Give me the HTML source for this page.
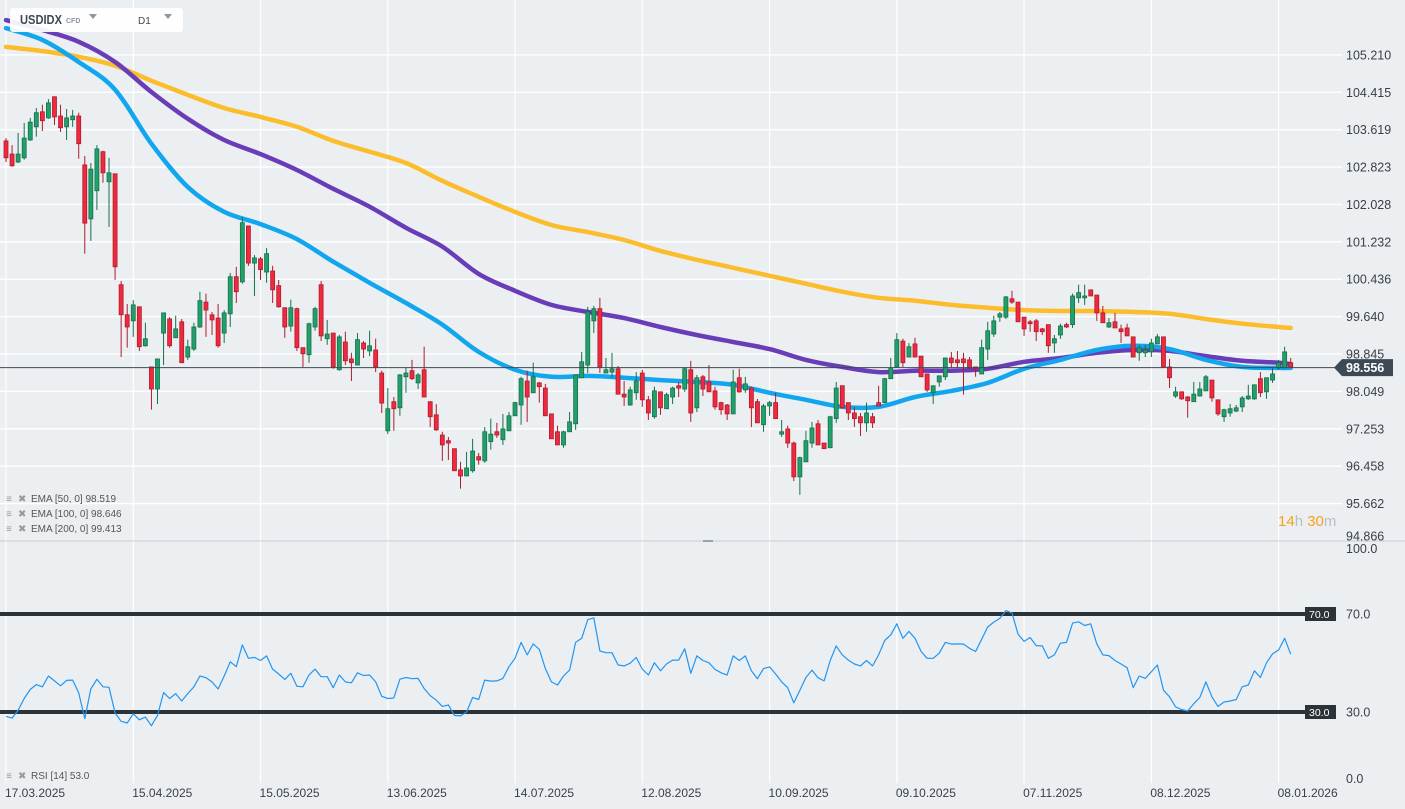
<!DOCTYPE html>
<html><head><meta charset="utf-8"><title>USDIDX D1</title>
<style>
html,body{margin:0;padding:0;background:#eceff2;}
body{width:1405px;height:809px;overflow:hidden;font-family:"Liberation Sans",sans-serif;}
svg{display:block}
</style></head>
<body>
<svg id="chart" width="1405" height="809" xmlns="http://www.w3.org/2000/svg" style="font-family:'Liberation Sans',sans-serif">
  <rect x="0" y="0" width="1405" height="809" fill="#eceff2"/>
  <g id="grid"></g>
  <g id="ema"></g>
  <g id="candles"></g>
  <g id="rsi"></g>
  <g id="axes"></g>

  <g>
    <rect x="10" y="8" width="173" height="24" rx="3" fill="#ffffff" fill-opacity="0.92"/>
    <text x="20" y="24" font-size="12.5" font-weight="bold" fill="#3d4a55" textLength="42" lengthAdjust="spacingAndGlyphs">USDIDX</text>
    <text x="66" y="23" font-size="7" font-weight="bold" fill="#8a96a0">CFD</text>
    <path d="M89 14 L97 14 L93 19 Z" fill="#8a96a0"/>
    <text x="138" y="24" font-size="10" fill="#3d4a55">D1</text>
    <path d="M164 14 L172 14 L168 19 Z" fill="#8a96a0"/>
  </g>

  <g font-size="10" fill="#555">
    <g><text x="6" y="502" fill="#999">≡</text><text x="18" y="502" fill="#999">✖</text><text x="31" y="502">EMA [50,  0] 98.519</text></g>
    <g><text x="6" y="517" fill="#999">≡</text><text x="18" y="517" fill="#999">✖</text><text x="31" y="517">EMA [100,  0] 98.646</text></g>
    <g><text x="6" y="532" fill="#999">≡</text><text x="18" y="532" fill="#999">✖</text><text x="31" y="532">EMA [200,  0] 99.413</text></g>
  </g>
  <g font-size="10" fill="#555"><text x="6" y="779" fill="#999">≡</text><text x="18" y="779" fill="#999">✖</text><text x="31" y="779">RSI [14] 53.0</text></g>

  <text x="1278" y="526" font-size="15"><tspan fill="#f7a21b">14</tspan><tspan fill="#b9bec4">h </tspan><tspan fill="#f7a21b">30</tspan><tspan fill="#b9bec4">m</tspan></text>
  <line x1="0" y1="541" x2="1405" y2="541" stroke="#c9ced4" stroke-width="1"/>
  <rect x="703" y="540" width="10" height="2" fill="#9aa3ab"/>
</svg>
<script>
const opens=[103.38,103.10,102.93,103.02,103.40,103.68,104.00,103.87,104.32,103.91,103.68,103.83,103.91,102.87,101.72,102.32,103.15,102.51,102.68,100.32,99.68,99.55,99.85,99.02,98.57,98.10,99.29,99.59,99.19,99.53,98.78,98.95,99.42,99.95,99.68,99.61,99.29,99.70,100.49,100.38,101.57,100.78,100.87,100.59,100.61,100.30,99.83,99.44,99.81,98.98,98.83,99.42,100.32,99.17,99.29,98.51,99.10,98.74,98.61,99.08,98.91,98.93,98.44,97.21,97.83,97.70,98.36,98.49,98.23,98.51,97.83,97.55,97.12,97.00,96.83,96.38,96.25,96.36,96.66,96.57,96.98,97.19,97.02,97.21,97.53,97.76,98.27,98.02,98.23,98.12,97.57,97.19,96.91,97.19,97.36,98.34,98.61,99.55,99.81,98.44,98.46,98.53,97.99,97.76,98.02,98.44,97.87,97.51,98.04,97.68,97.93,98.17,98.10,98.51,97.70,98.36,98.25,98.06,97.81,97.76,97.57,98.34,98.08,98.12,97.83,97.34,97.74,97.81,97.14,97.25,96.95,96.23,96.55,96.95,97.36,96.95,96.85,97.47,98.17,97.81,97.59,97.51,97.38,97.51,97.81,97.81,98.32,98.57,99.12,98.78,99.06,98.80,98.42,98.02,98.25,98.36,98.76,98.72,98.74,98.72,98.57,98.42,98.95,99.27,99.63,99.63,100.02,99.95,99.63,99.53,99.55,99.38,99.47,99.08,99.25,99.47,99.47,100.04,100.04,100.21,100.10,99.72,99.42,99.53,99.38,99.40,99.21,98.87,98.87,98.89,99.06,99.21,98.57,97.95,98.04,97.93,97.83,97.95,98.06,98.29,97.87,97.51,97.59,97.63,97.72,97.89,97.89,98.32,98.04,98.29,98.55,98.55,98.66];
const closes=[103.02,102.85,103.10,103.44,103.78,103.98,103.81,104.19,103.89,103.66,103.87,103.91,103.32,101.63,102.78,103.21,102.70,102.70,100.70,99.68,99.42,99.89,99.00,99.17,98.10,98.74,99.72,99.02,99.38,98.66,99.00,99.42,99.98,99.78,99.57,99.02,99.72,100.49,100.17,101.64,100.78,100.89,100.64,100.98,100.21,99.85,99.42,99.83,98.98,98.85,99.49,99.81,99.23,99.27,98.57,99.21,98.70,98.66,99.15,98.95,99.02,98.57,97.80,97.68,97.68,98.40,98.44,98.32,98.40,97.93,97.51,97.23,96.91,96.95,96.36,96.25,96.42,96.78,96.59,97.19,97.14,97.12,97.25,97.53,97.81,98.32,97.93,98.36,98.15,97.53,97.04,96.91,97.19,97.40,98.40,98.68,99.74,99.81,98.57,98.51,98.53,97.99,97.93,98.08,98.27,97.87,97.59,98.06,97.70,97.98,98.12,98.12,98.53,97.59,98.34,98.10,98.04,97.72,97.66,97.57,98.25,98.04,98.21,97.70,97.38,97.74,97.81,97.47,97.19,96.95,96.23,96.64,97.00,97.27,96.91,96.83,97.51,98.12,97.70,97.59,97.47,97.38,97.59,97.38,97.74,98.32,98.55,99.15,98.66,99.00,98.78,98.36,98.08,98.17,98.38,98.76,98.66,98.66,98.66,98.55,98.53,98.98,99.34,99.55,99.70,100.06,99.95,99.53,99.38,99.49,99.32,99.32,99.02,99.17,99.44,99.42,100.08,100.15,100.08,100.08,99.72,99.51,99.51,99.40,99.32,99.23,98.78,98.98,98.93,99.08,99.21,98.57,98.34,98.04,97.89,97.85,97.99,98.10,98.36,97.91,97.57,97.66,97.68,97.70,97.91,97.95,98.19,98.02,98.34,98.42,98.66,98.89,98.57];
const highs=[103.44,103.29,103.55,103.76,103.87,104.08,104.15,104.27,104.32,104.15,104.06,104.04,103.98,103.06,102.91,103.29,103.17,103.02,102.68,100.40,99.91,99.99,99.85,99.51,98.57,98.74,99.72,99.63,99.66,99.59,99.15,99.51,100.17,100.13,99.74,99.91,99.78,100.57,100.70,101.76,101.57,100.95,100.91,101.10,100.72,100.42,99.83,100.00,99.83,98.98,99.51,99.85,100.40,99.57,99.29,99.25,99.32,98.87,99.29,99.12,99.34,99.17,98.49,98.12,97.93,98.42,98.55,98.72,98.44,99.00,97.83,97.78,97.19,97.08,96.83,96.55,96.76,97.04,96.74,97.29,97.47,97.38,97.57,97.61,97.83,98.36,98.49,98.66,98.25,98.21,97.57,97.32,97.21,97.61,98.40,98.89,99.85,99.87,100.04,98.76,98.87,98.59,98.27,98.15,98.46,98.51,97.95,98.15,98.04,98.02,98.15,98.25,98.55,98.70,98.40,98.40,98.61,98.15,97.83,97.78,98.51,98.53,98.36,98.15,97.89,97.78,97.85,98.02,97.44,97.32,96.98,96.66,97.21,97.40,97.44,96.95,97.53,98.25,98.17,97.81,97.72,97.59,97.81,97.59,98.17,98.34,98.76,99.29,99.17,99.08,99.19,98.80,98.42,98.17,98.38,98.76,98.89,98.91,98.87,98.78,98.57,99.15,99.53,99.66,99.74,100.08,100.19,99.95,99.63,99.57,99.59,99.40,99.47,99.25,99.49,99.51,100.13,100.32,100.32,100.21,100.10,99.87,99.61,99.72,99.47,99.49,99.21,99.04,99.04,99.17,99.27,99.21,98.74,98.15,98.04,97.95,98.25,98.25,98.40,98.29,97.87,97.68,97.78,97.76,97.95,98.19,98.19,98.46,98.34,98.57,98.72,99.00,98.76];
const lows=[102.93,102.83,102.91,102.98,103.38,103.47,103.59,103.85,103.72,103.57,103.40,103.68,103.00,100.98,101.25,101.91,102.49,101.55,100.42,98.78,98.98,99.21,98.91,99.00,97.66,97.78,98.61,98.98,99.19,98.66,98.72,98.91,99.40,99.21,99.25,98.98,99.08,99.42,99.93,100.34,100.72,100.08,100.42,100.36,99.93,99.83,99.19,99.32,98.91,98.57,98.66,99.34,99.12,99.04,98.53,98.49,98.61,98.27,98.61,98.76,98.80,98.46,97.59,97.14,97.21,97.53,98.02,98.29,98.10,97.93,97.29,97.21,96.57,96.59,96.36,95.98,96.25,96.32,96.49,96.53,96.81,97.06,96.91,97.21,97.53,97.34,97.40,98.02,97.81,97.53,97.04,96.91,96.85,97.19,97.23,98.34,98.44,99.29,98.44,98.44,98.34,97.99,97.74,97.74,97.87,97.72,97.44,97.47,97.55,97.68,97.78,97.93,98.04,97.40,97.61,97.95,98.04,97.66,97.55,97.44,97.57,98.02,98.02,97.29,97.38,97.19,97.53,97.47,97.08,96.85,96.14,95.85,96.55,96.85,96.91,96.83,96.85,97.38,97.70,97.44,97.29,97.10,97.19,97.27,97.74,97.81,98.32,98.57,98.57,98.78,98.78,98.36,98.04,97.78,98.15,98.29,98.55,98.55,97.98,98.53,98.36,98.42,98.72,99.21,99.53,99.59,99.91,99.53,99.23,99.32,99.12,99.25,98.87,98.87,99.17,99.40,99.40,99.93,99.89,100.08,99.55,99.51,99.40,99.40,99.08,99.23,98.78,98.70,98.78,98.78,99.06,98.57,98.12,97.91,97.87,97.49,97.83,97.95,98.06,97.83,97.53,97.40,97.51,97.61,97.61,97.87,97.87,97.93,97.89,98.23,98.51,98.55,98.55];
const emaIdx=[0,6,12,18,24,30,36,42,48,54,60,66,72,78,84,90,96,102,108,114,120,126,132,138,144,150,156,162,168,174,180,186,192,198,204,210,212];
const ema50=[105.78,105.53,105.06,104.47,103.32,102.40,101.87,101.61,101.29,100.81,100.36,99.93,99.47,98.89,98.51,98.36,98.38,98.34,98.29,98.25,98.19,98.02,97.87,97.72,97.72,97.93,98.06,98.23,98.53,98.72,98.93,99.02,98.95,98.72,98.57,98.55,98.55];
const ema100=[105.95,105.74,105.49,105.06,104.42,103.85,103.40,103.10,102.76,102.36,101.98,101.53,101.13,100.55,100.19,99.89,99.74,99.61,99.42,99.25,99.10,98.95,98.72,98.57,98.46,98.49,98.49,98.53,98.68,98.76,98.87,98.93,98.91,98.80,98.70,98.66,98.63];
const ema200=[105.38,105.29,105.17,104.98,104.66,104.36,104.08,103.89,103.68,103.38,103.15,102.91,102.53,102.19,101.87,101.59,101.44,101.27,101.04,100.85,100.68,100.51,100.34,100.17,100.04,99.98,99.89,99.83,99.78,99.76,99.76,99.74,99.70,99.59,99.49,99.42,99.40];
const rsiVals=[28.2,27.5,30.7,35.5,39.2,41.2,40.3,44.7,42.7,40.7,42.9,43.0,37.8,27.3,39.4,43.4,40.3,40.1,29.6,26.2,25.5,29.3,26.8,27.9,24.4,28.6,37.9,35.5,37.5,34.5,37.5,40.3,44.7,44.0,42.3,39.4,44.7,50.5,48.5,57.4,51.9,52.3,51.0,52.9,47.5,45.5,43.3,45.8,40.5,40.3,45.1,47.5,44.4,44.4,39.9,45.1,42.3,41.9,46.0,44.9,45.1,42.3,36.4,35.5,35.7,43.4,44.1,43.6,43.7,39.6,36.7,34.8,32.3,32.9,28.6,28.4,30.0,35.9,35.1,43.0,42.6,42.7,43.7,48.5,51.9,58.4,53.3,57.8,55.6,47.8,42.3,41.0,44.7,47.1,58.4,60.1,67.7,68.4,54.9,54.2,54.2,49.2,48.8,49.9,52.3,47.5,45.1,50.1,46.8,49.6,51.2,51.2,55.8,45.8,52.9,51.0,50.1,47.4,46.0,45.1,52.9,51.0,52.9,46.8,43.6,47.7,48.4,45.5,42.3,39.9,33.7,38.9,44.1,47.1,44.0,42.7,51.0,57.0,53.3,51.2,49.6,48.8,51.0,48.8,53.3,59.2,61.5,66.0,60.1,62.9,60.1,54.7,51.9,51.9,54.0,58.4,57.7,57.8,57.7,56.0,54.7,59.7,64.7,66.7,68.2,71.4,70.4,61.8,58.8,60.4,57.1,57.0,51.9,53.3,58.1,58.4,66.3,66.8,65.3,66.0,57.8,53.3,53.0,51.0,49.6,48.1,39.9,44.7,43.7,46.4,49.2,38.9,36.2,32.1,31.0,30.4,33.4,35.9,42.3,36.2,32.3,34.1,34.5,35.1,40.3,41.0,46.8,44.1,50.1,53.7,55.3,60.1,53.6];
const priceTicks=["105.210","104.415","103.619","102.823","102.028","101.232","100.436","99.640","98.845","98.049","97.253","96.458","95.662","94.866"];
const dateIdx=[0,21,42,63,84,105,126,147,168,189,210];
const dateLabels=["17.03.2025","15.04.2025","15.05.2025","13.06.2025","14.07.2025","12.08.2025","10.09.2025","09.10.2025","07.11.2025","08.12.2025","08.01.2026"];
const rsiLevels=[70,30];
const rsiAxis=["100.0","0.0"];
const lastPrice=98.556;

const NS="http://www.w3.org/2000/svg";
function mk(tag,attrs,parent){const e=document.createElementNS(NS,tag);for(const k in attrs)e.setAttribute(k,attrs[k]);parent.appendChild(e);return e;}
const xOf=i=>6+6.06*i;
const yOf=v=>354+(98.845-v)*46.99;
const yR=v=>785.5-2.45*v;
const PLOT_R=1336;

const grid=document.getElementById('grid');
const axes=document.getElementById('axes');
dateIdx.forEach((idx,i)=>{
  const x=xOf(idx);
  const l=mk('line',{x1:x,y1:0,x2:x,y2:783,stroke:'#ffffff','stroke-width':1.2},grid);
  
  
  const t=mk('text',{x:x-1,y:797,'font-size':12,fill:'#3a3f44'},axes);
  t.textContent=dateLabels[i];
  
  
});
priceTicks.forEach(s=>{
  const v=parseFloat(s), y=yOf(v);
  if(y<540){
    const l=mk('line',{x1:0,y1:y,x2:1342,y2:y,stroke:'#ffffff','stroke-width':1.3},grid);
    
    
  }
  const t=mk('text',{x:1346,y:Math.min(y,536)+4.5,'font-size':12.5,fill:'#3a3f44'},axes);
  t.textContent=s;
  
  
});
// EMA lines (smoothed through sampled values)
function smoothPath(pts){
  let d='M'+pts[0][0].toFixed(1)+' '+pts[0][1].toFixed(1);
  for(let i=0;i<pts.length-1;i++){
    const p0=pts[Math.max(0,i-1)],p1=pts[i],p2=pts[i+1],p3=pts[Math.min(pts.length-1,i+2)];
    const c1=[p1[0]+(p2[0]-p0[0])/6,p1[1]+(p2[1]-p0[1])/6];
    const c2=[p2[0]-(p3[0]-p1[0])/6,p2[1]-(p3[1]-p1[1])/6];
    d+=` C${c1[0].toFixed(1)} ${c1[1].toFixed(1)} ${c2[0].toFixed(1)} ${c2[1].toFixed(1)} ${p2[0].toFixed(1)} ${p2[1].toFixed(1)}`;
  }
  return d;
}
const emaG=document.getElementById('ema');
[[ema200,'#fbbd2c','ema-200-line'],[ema100,'#6a3db8','ema-100-line'],[ema50,'#12a6ee','ema-50-line']].forEach(([arr,col,name])=>{
  const pts=arr.map((v,i)=>[xOf(emaIdx[i]),yOf(v)]);
  const p=mk('path',{d:smoothPath(pts),fill:'none',stroke:col,'stroke-width':4.5,'stroke-linejoin':'round','stroke-linecap':'round'},emaG);
  
  
});
const pl=mk('line',{x1:0,y1:yOf(lastPrice),x2:PLOT_R,y2:yOf(lastPrice),stroke:'#3d4a55','stroke-width':1},axes);


const cg=document.getElementById('candles');
closes.forEach((c,i)=>{
  const o=opens[i], h=Math.max(highs[i],o,c), l=Math.min(lows[i],o,c);
  const up=c>=o, x=xOf(i);
  const fill=up?'#22a06b':'#f02a3e', stroke=up?'#15704a':'#b01a2c';
  const g=mk('g',{},cg);
  
  
  mk('line',{x1:x,y1:yOf(h),x2:x,y2:yOf(l),stroke:stroke,'stroke-width':1},g);
  const top=yOf(Math.max(o,c)), bh=Math.max(1.5,yOf(Math.min(o,c))-top);
  mk('rect',{x:x-2,y:top,width:4,height:bh,fill:fill,stroke:stroke,'stroke-width':0.8},g);
});
const tag=mk('g',{},axes);


const ly=yOf(lastPrice);
mk('path',{d:`M1334 ${ly} L1342 ${ly-8.5} L1393 ${ly-8.5} L1393 ${ly+8.5} L1342 ${ly+8.5} Z`,fill:'#3c4a56'},tag);
const lt=mk('text',{x:1346,y:ly+4.5,'font-size':12.5,'font-weight':'bold',fill:'#ffffff'},tag);
lt.textContent=lastPrice.toFixed(3);
const rg=document.getElementById('rsi');
rsiLevels.forEach(v=>{
  const y=yR(v);
  const l=mk('line',{x1:0,y1:y,x2:1306,y2:y,stroke:'#2b3339','stroke-width':4},rg);
  
  
  const b=mk('rect',{x:1305,y:y-7,width:31,height:14,fill:'#2b3339'},rg);
  
  
  const t=mk('text',{x:1309,y:y+4,'font-size':10.5,fill:'#ffffff'},rg);
  t.textContent=v.toFixed(1);
  const t2=mk('text',{x:1346,y:y+4.5,'font-size':12.5,fill:'#3a3f44'},rg);
  t2.textContent=v.toFixed(1);
  
  
});
[[rsiAxis[0],553],[rsiAxis[1],783]].forEach(([s,y])=>{
  const t=mk('text',{x:1346,y:y,'font-size':12.5,fill:'#3a3f44'},rg);
  t.textContent=s;
  
  
});
const rd=rsiVals.map((v,i)=>(i?'L':'M')+xOf(i).toFixed(1)+' '+yR(v).toFixed(1)).join(' ');
const rp=mk('path',{d:rd,fill:'none',stroke:'#2196f3','stroke-width':1.2,'stroke-linejoin':'round'},rg);


</script>
</body></html>
